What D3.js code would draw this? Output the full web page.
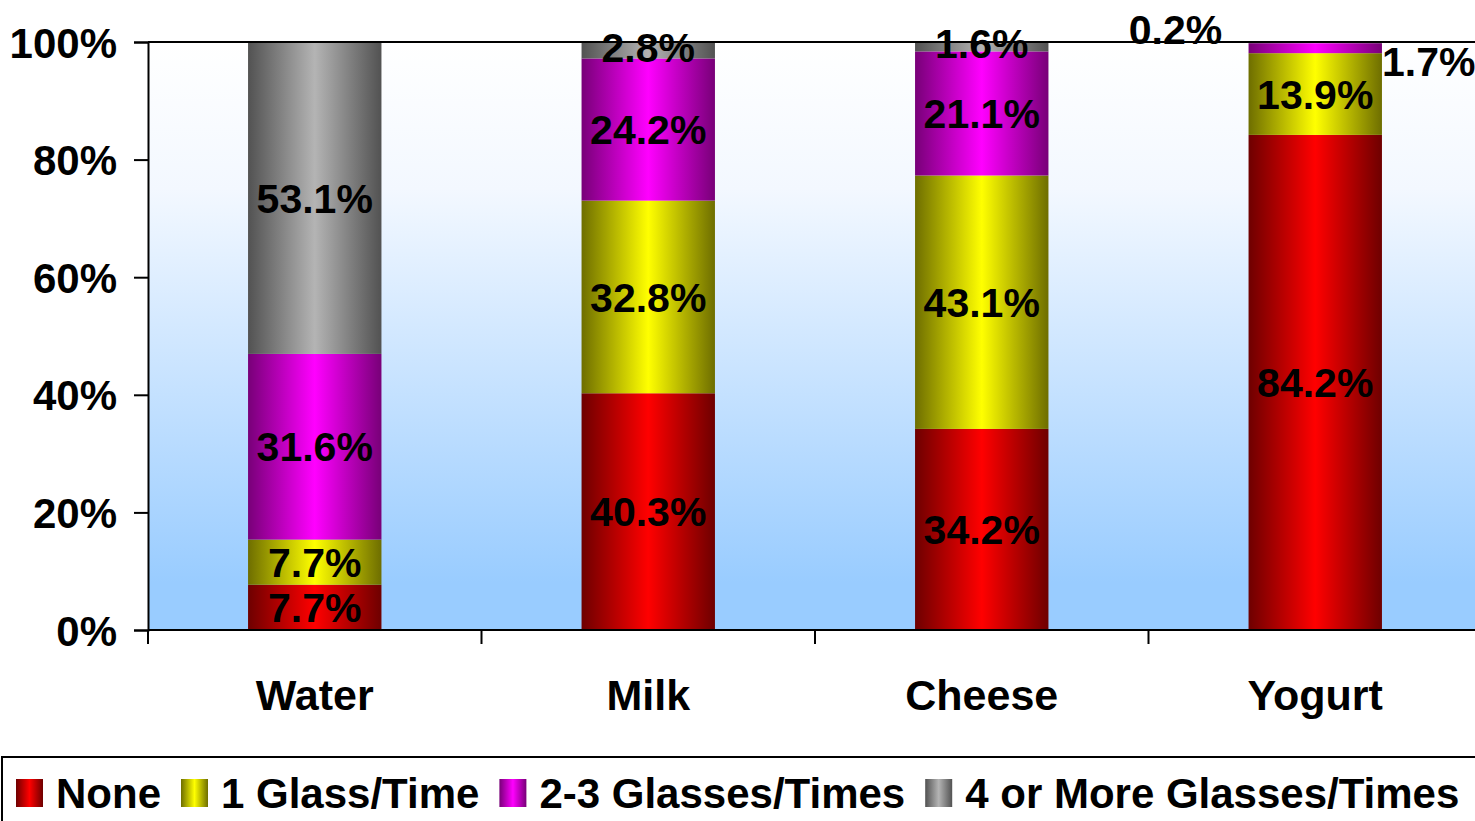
<!DOCTYPE html>
<html>
<head>
<meta charset="utf-8">
<script src="https://cdn.jsdelivr.net/npm/d3@7"></script>
<style>
  html, body { margin: 0; padding: 0; background: #ffffff; }
  svg { display: block; }
  text { font-family: "Liberation Sans", Arial, Helvetica, sans-serif; font-weight: bold; fill: #000; }
</style>
</head>
<body>
<svg id="chart" width="1475" height="821"></svg>
<script>
// Drinking / eating frequency by product (shares of respondents)
const categories = ["Water", "Milk", "Cheese", "Yogurt"];
const seriesNames = ["None", "1 Glass/Time", "2-3 Glasses/Times", "4 or More Glasses/Times"];
const noneValues = [7.7, 40.3, 34.2, 84.2];
const oneGlassValues = [7.7, 32.8, 43.1, 13.9];
const twoThreeValues = [31.6, 24.2, 21.1, 1.7];
const fourPlusValues = [53.1, 2.8, 1.6, 0.2];
const yTickValues = [0, 0.2, 0.4, 0.6, 0.8, 1.0];

// bar shading: dark edge colour and bright centre colour per series
const shades = [
  { dark: "#6e0000", light: "#ff0000" },
  { dark: "#6e6e00", light: "#ffff00" },
  { dark: "#780078", light: "#ff00ff" },
  { dark: "#525252", light: "#b4b4b4" }
];

const seriesValues = [noneValues, oneGlassValues, twoThreeValues, fourPlusValues];
const rows = categories.map((c, i) => {
  const r = { category: c };
  seriesNames.forEach((s, j) => { r[s] = seriesValues[j][i]; });
  return r;
});

const svg = d3.select("#chart");
const plot = { left: 148, top: 42, bottom: 630, right: 1482 };

const defs = svg.append("defs");
// plot area background: white fading into light blue
const bg = defs.append("linearGradient").attr("id", "bgGrad")
  .attr("x1", 0).attr("y1", 0).attr("x2", 0).attr("y2", 1);
bg.append("stop").attr("offset", "0%").attr("stop-color", "#ffffff");
bg.append("stop").attr("offset", "25%").attr("stop-color", "#f3f8ff");
bg.append("stop").attr("offset", "92%").attr("stop-color", "#99ccff");
bg.append("stop").attr("offset", "100%").attr("stop-color", "#99ccff");

shades.forEach((s, i) => {
  const g = defs.append("linearGradient").attr("id", "barGrad" + i)
    .attr("x1", 0).attr("y1", 0).attr("x2", 1).attr("y2", 0);
  g.append("stop").attr("offset", "0%").attr("stop-color", s.dark);
  g.append("stop").attr("offset", "50%").attr("stop-color", s.light);
  g.append("stop").attr("offset", "100%").attr("stop-color", s.dark);
});

const x = d3.scaleBand().domain(categories)
  .range([plot.left, plot.right]).paddingInner(0.6).paddingOuter(0.3);
const y = d3.scaleLinear().domain([0, 1]).range([plot.bottom, plot.top]);

const stack = d3.stack().keys(seriesNames).offset(d3.stackOffsetExpand);
const stacked = stack(rows);

// background
svg.append("rect")
  .attr("x", plot.left).attr("y", plot.top)
  .attr("width", plot.right - plot.left).attr("height", plot.bottom - plot.top)
  .attr("fill", "url(#bgGrad)");

// bars
const layers = svg.append("g").selectAll("g").data(stacked).join("g")
  .attr("fill", (d, i) => `url(#barGrad${i})`);
layers.selectAll("rect").data(d => d).join("rect")
  .attr("x", d => x(d.data.category))
  .attr("width", x.bandwidth())
  .attr("y", d => y(d[1]))
  .attr("height", d => y(d[0]) - y(d[1]));

// frame: top border, y axis, x axis
svg.append("line").attr("x1", plot.left).attr("x2", plot.right)
  .attr("y1", plot.top).attr("y2", plot.top)
  .attr("stroke", "#000").attr("stroke-width", 2);

const yAxis = d3.axisLeft(y).tickValues(yTickValues)
  .tickFormat(d3.format(".0%")).tickSize(14).tickPadding(17);
const yg = svg.append("g").attr("transform", `translate(${plot.left},0)`).call(yAxis);
yg.select(".domain").attr("stroke", "#000").attr("stroke-width", 2);
yg.selectAll(".tick line").attr("stroke", "#000").attr("stroke-width", 2);
yg.selectAll(".tick text").attr("font-size", 42).attr("font-family", null)
  .attr("font-weight", "bold").attr("dy", "0.36em");

// x axis with ticks on category boundaries
const xg = svg.append("g").attr("transform", `translate(0,${plot.bottom})`);
xg.append("line").attr("x1", plot.left).attr("x2", plot.right)
  .attr("stroke", "#000").attr("stroke-width", 2);
const step = x.step();
xg.selectAll("line.boundary").data(d3.range(categories.length + 1)).join("line")
  .attr("class", "boundary")
  .attr("x1", i => plot.left + i * step).attr("x2", i => plot.left + i * step)
  .attr("y1", 0).attr("y2", 14)
  .attr("stroke", "#000").attr("stroke-width", 2);
xg.selectAll("text").data(categories).join("text")
  .attr("x", d => x(d) + x.bandwidth() / 2)
  .attr("y", 80)
  .attr("text-anchor", "middle")
  .attr("font-size", 43)
  .text(d => d);

// value labels
const fmt = v => v.toFixed(1) + "%";
const labels = svg.append("g");
stacked.forEach((layer, si) => {
  layer.forEach(d => {
    const cat = d.data.category;
    const v = d.data[layer.key];
    const bx = x(cat), bw = x.bandwidth();
    let tx = bx + bw / 2, ty = (y(d[0]) + y(d[1])) / 2, anchor = "middle";
    // the thin top slices of the last bar are labelled beside it
    if (cat === categories[categories.length - 1] && si === 2) {
      tx = bx + bw; ty = y(d[1]) + 18; anchor = "start";
    }
    if (cat === categories[categories.length - 1] && si === 3) {
      tx = bx - 73; ty = y(d[1]) - 13;
    }
    if (si === 3 && cat !== categories[0] && cat !== categories[categories.length - 1]) {
      ty -= 3;
    }
    labels.append("text")
      .attr("x", tx).attr("y", ty).attr("dy", "0.36em")
      .attr("text-anchor", anchor)
      .attr("font-size", 41)
      .text(fmt(v));
  });
});

// legend
const legend = svg.append("g");
legend.append("rect").attr("x", 2).attr("y", 757)
  .attr("width", 1490).attr("height", 90)
  .attr("fill", "#fff").attr("stroke", "#000").attr("stroke-width", 2);
let lx = 16;
seriesNames.forEach((name, i) => {
  legend.append("rect").attr("x", lx).attr("y", 779)
    .attr("width", 27).attr("height", 28)
    .attr("fill", `url(#barGrad${i})`);
  const t = legend.append("text").attr("x", lx + 40).attr("y", 793)
    .attr("dy", "0.36em").attr("font-size", 42).text(name);
  lx += 40 + t.node().getComputedTextLength() + 20;
});
</script>
</body>
</html>
